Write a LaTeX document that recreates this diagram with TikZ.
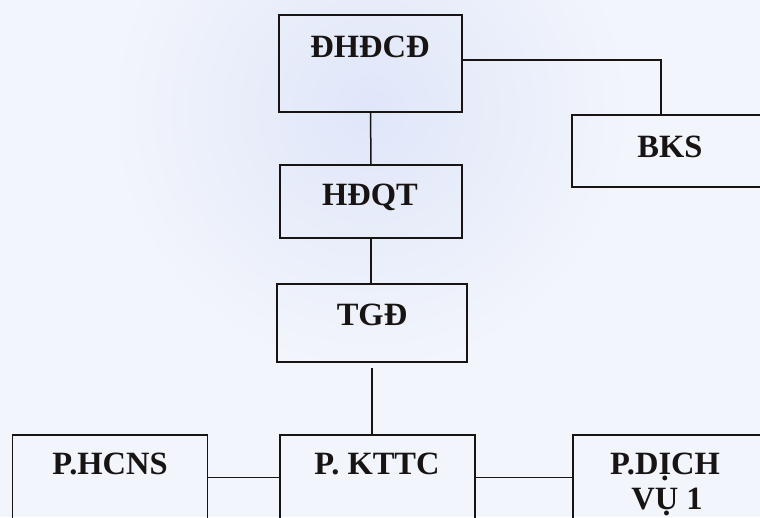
\documentclass[tikz,border=0pt]{standalone}
\usepackage{fontspec}
\setmainfont{Liberation Serif}
\definecolor{bgc}{RGB}{242,245,251}
\definecolor{bgtop}{RGB}{224,230,250}
\definecolor{ink}{RGB}{25,20,20}
\tikzset{
  box/.style={draw=ink, line width=1.6pt, rectangle, inner sep=0pt},
  lbl/.style={font=\bfseries\fontsize{32.5}{35}\selectfont, text=ink, inner sep=0pt, anchor=base},
  conn/.style={draw=ink, line width=1.5pt}
}
\begin{document}
\begin{tikzpicture}[x=1pt,y=-1pt]
\useasboundingbox (0,0) rectangle (760,517);
\clip (0,0) rectangle (760,517);
\fill[bgc] (0,0) rectangle (760,517);
\shade[inner color=bgtop, outer color=bgc] (370,110) circle (260);
% boxes
\node[box, minimum width=183pt, minimum height=97pt] (dhdcd) at (370.5,63.5) {};
\node[box, minimum width=196pt, minimum height=72pt] (bks) at (670,151) {};
\node[box, minimum width=182pt, minimum height=73pt] (hdqt) at (371,201.5) {};
\node[box, minimum width=190pt, minimum height=78pt] (tgd) at (372,323) {};
\node[box, minimum width=195pt, minimum height=105pt] (phcns) at (110,487.5) {};
\node[box, minimum width=195pt, minimum height=105pt] (pkttc) at (377.5,487.5) {};
\node[box, minimum width=196pt, minimum height=105pt] (pdv) at (671,487.5) {};
% labels
\node[lbl] (dhdcdT) at (370,57) {ĐHĐCĐ};
\node[lbl] (bksT) at (670,157) {BKS};
\node[lbl] (hdqtT) at (370,205) {HĐQT};
\node[lbl] (tgdT) at (372,325) {TGĐ};
\node[lbl] (phcnsT) at (110,474) {P.HCNS};
\node[lbl] (pkttcT) at (377,474) {P. KTTC};
\node[lbl] (pdvT) at (665,474) {P.DỊCH};
\node[lbl] (pdvT2) at (667,509) {VỤ 1};
% connectors
\draw[conn] ([yshift=3.5pt]dhdcd.east) -| ([xshift=-9pt]bks.north);
\draw[conn] (dhdcd.south) -- (hdqt.north);
\draw[conn] (hdqt.south) -- (hdqt.south |- tgd.north);
\draw[conn] ([yshift=-5pt]tgd.south) -- (tgd.south |- pkttc.north);
\draw[conn] ([yshift=10pt]phcns.east) -- ([yshift=10pt]pkttc.west);
\draw[conn] ([yshift=10pt]pkttc.east) -- ([yshift=10pt]pdv.west);
\end{tikzpicture}
\end{document}
